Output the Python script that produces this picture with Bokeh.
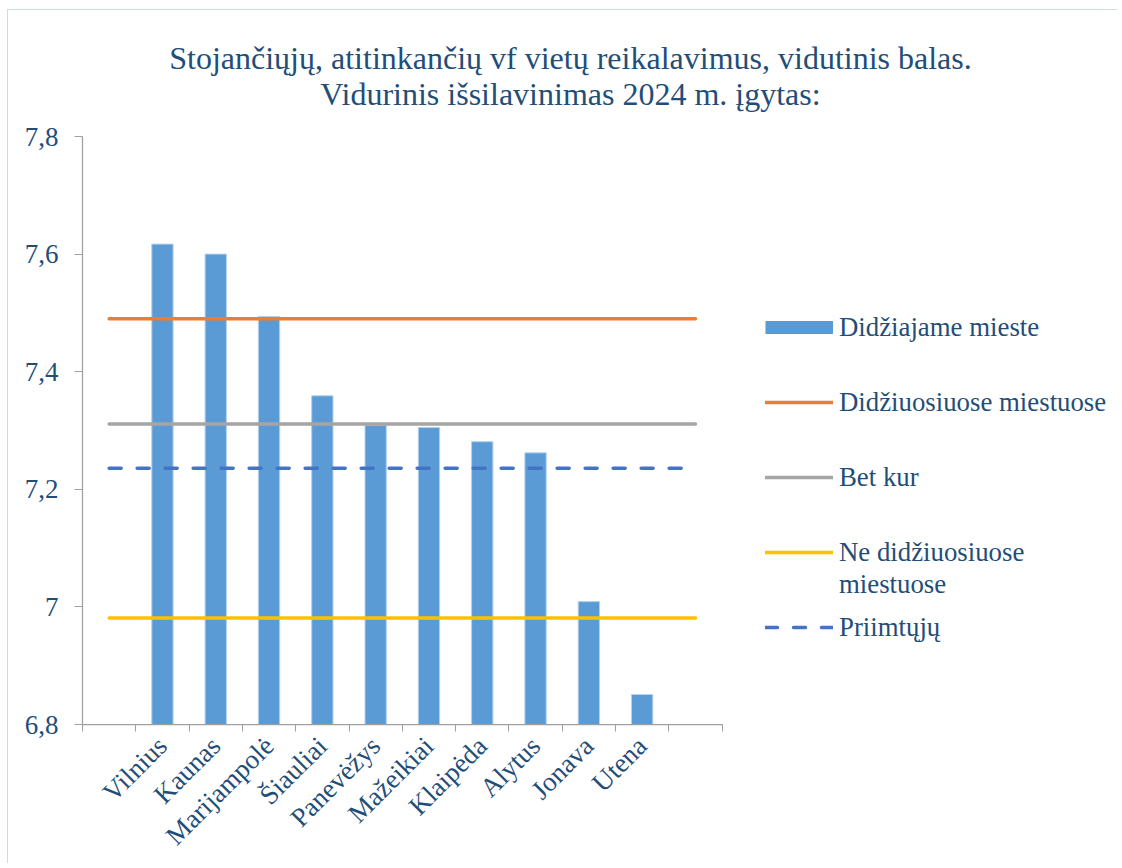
from math import pi
from bokeh.plotting import figure
from bokeh.models import (Range1d, LinearAxis, FixedTicker, Legend, LegendItem, Label)
from bokeh.embed import file_html
from bokeh.resources import INLINE

# ---------------- data ----------------
title_line1 = "Stojančiųjų, atitinkančių vf vietų reikalavimus, vidutinis balas."
title_line2 = "Vidurinis išsilavinimas 2024 m. įgytas:"

cities = ["Vilnius", "Kaunas", "Marijampolė", "Šiauliai", "Panevėžys",
          "Mažeikiai", "Klaipėda", "Alytus", "Jonava", "Utena"]
city_scores = [7.617, 7.600, 7.494, 7.359, 7.309, 7.305, 7.281, 7.262, 7.009, 6.851]

ref_names = ["Didžiuosiuose miestuose", "Bet kur", "Ne didžiuosiuose", "Priimtųjų"]
ref_values = [7.490, 7.311, 6.981, 7.236]

bar_name = "Didžiajame mieste"
second_line_of_label = "miestuose"

y_ticks = [6.8, 7, 7.2, 7.4, 7.6, 7.8]
y_tick_labels = ["6,8", "7", "7,2", "7,4", "7,6", "7,8"]

# ---------------- style / layout ----------------
FONT = "Liberation Serif"
TXT = "#1F4E79"
AXIS = "#A0A0A0"
BAR = "#5B9BD5"
REF_COLORS = ["#ED7D31", "#A5A5A5", "#FFC000", "#4472C4"]
REF_DASH = ["solid", "solid", "solid", "12 16"]

W, H = 1110, 854            # canvas size (canvas starts at page x=8, y=10)
LEFT, BOTTOM = 74, 140      # space for the axes
AXIS_TOP_PX = 126           # distance from canvas top to the 7,8 tick
SLOTS_PX = 639.6            # width of the category axis

n_slots = len(cities) + 2   # one empty slot before and after the cities (as in the original)
city_pos = [i + 1.5 for i in range(len(cities))]
slot_edges = list(range(n_slots + 1))
line_x = [0.5, n_slots - 0.5]

frame_w = W - LEFT
frame_h = H - BOTTOM
axis_h = frame_h - AXIS_TOP_PX
y_span = y_ticks[-1] - y_ticks[0]
y_end = y_ticks[0] + y_span * frame_h / axis_h
x_end = n_slots * frame_w / SLOTS_PX

p = figure(width=W, height=H, output_backend="svg", toolbar_location=None,
           x_range=Range1d(0, x_end), y_range=Range1d(y_ticks[0], y_end),
           min_border_left=LEFT, min_border_right=0, min_border_top=0, min_border_bottom=BOTTOM)
p.xgrid.visible = False
p.ygrid.visible = False
p.outline_line_color = None
p.background_fill_color = "white"
p.border_fill_color = "white"
p.styles = {"margin-left": "7px", "margin-top": "9px",
            "border-left": "1px solid #C9DDF0", "border-top": "1px solid #C9DDF0"}

# y axis
ya = p.yaxis[0]
ya.bounds = (y_ticks[0], y_ticks[-1])
ya.ticker = FixedTicker(ticks=y_ticks)
ya.major_label_overrides = dict(zip(y_ticks, y_tick_labels))
ya.axis_line_color = AXIS
ya.axis_line_width = 1.25
ya.major_tick_line_color = AXIS
ya.major_tick_out = 8
ya.major_tick_in = 0
ya.minor_tick_out = 0
ya.minor_tick_in = 0
ya.major_label_standoff = 16
ya.major_label_text_font = FONT
ya.major_label_text_font_size = "27px"
ya.major_label_text_color = TXT

# x axis 1: tick marks at the slot edges, no labels
xa = p.xaxis[0]
xa.bounds = (0, n_slots)
xa.ticker = FixedTicker(ticks=slot_edges)
xa.axis_line_color = AXIS
xa.axis_line_width = 1.25
xa.major_tick_line_color = AXIS
xa.major_tick_out = 7
xa.major_tick_in = 0
xa.minor_tick_out = 0
xa.minor_tick_in = 0
xa.major_label_text_font_size = "0px"
xa.major_label_text_alpha = 0
xa.major_label_standoff = 0

# x axis 2: city names at slot centres
cat_axis = LinearAxis(ticker=FixedTicker(ticks=city_pos), bounds=(0, n_slots),
                      major_label_overrides=dict(zip(city_pos, cities)),
                      axis_line_color=None, major_tick_line_color=None,
                      major_tick_out=0, major_tick_in=0, minor_tick_out=0, minor_tick_in=0,
                      major_label_orientation=pi / 4, major_label_standoff=10,
                      major_label_text_font=FONT, major_label_text_font_size="27px",
                      major_label_text_color=TXT)
p.add_layout(cat_axis, "below")

# bars
bars = p.vbar(x=city_pos, top=city_scores, bottom=y_ticks[0], width=0.4,
              fill_color=BAR, line_color="#B4D1EE", line_width=1)

# reference lines
ref_renderers = []
for v, c, d in zip(ref_values, REF_COLORS, REF_DASH):
    r = p.line(x=line_x, y=[v, v], line_color=c, line_width=3.5,
               line_dash=d, line_cap="round")
    ref_renderers.append(r)

# legend swatch for the bars (a one-point line draws nothing on the plot itself)
bar_swatch = p.line(x=city_pos[:1], y=city_scores[:1], line_color=BAR, line_width=13,
                    line_cap="butt")
# invisible swatch for the wrapped second line of a label
blank_swatch = p.line(x=city_pos[:1], y=city_scores[:1], line_alpha=0)

common = dict(glyph_width=68, glyph_height=30, label_height=30, label_standoff=6,
              padding=0, margin=0, border_line_color=None, background_fill_alpha=0,
              label_text_font=FONT, label_text_font_size="26.8px", label_text_color=TXT,
              orientation="vertical")

leg_a = Legend(items=[LegendItem(label=bar_name, renderers=[bar_swatch]),
                      LegendItem(label=ref_names[0], renderers=[ref_renderers[0]]),
                      LegendItem(label=ref_names[1], renderers=[ref_renderers[1]]),
                      LegendItem(label=ref_names[2], renderers=[ref_renderers[2]])],
               location=(683, 156.5), spacing=44, **common)
leg_b = Legend(items=[LegendItem(label=second_line_of_label, renderers=[blank_swatch]),
                      LegendItem(label=ref_names[3], renderers=[ref_renderers[3]])],
               location=(683, 81.5), spacing=12, **common)
p.add_layout(leg_a)
p.add_layout(leg_b)

# title (two centred lines over the whole chart)
for txt, yy in [(title_line1, 667), (title_line2, 631)]:
    p.add_layout(Label(x=488, y=yy, x_units="screen", y_units="screen", text=txt,
                       text_align="center", text_baseline="alphabetic",
                       text_font=FONT, text_font_size="32px", text_color=TXT))

open("out.html", "w").write(file_html(p, INLINE))
